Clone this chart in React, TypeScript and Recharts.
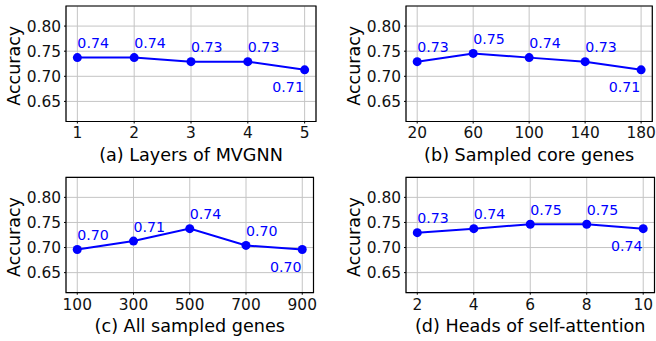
import React from 'react';
import { LineChart, Line, XAxis, YAxis, CartesianGrid, ReferenceArea, LabelList } from 'recharts';

const layersX = [1, 2, 3, 4, 5];
const layersAcc = [0.7372, 0.7372, 0.7292, 0.7292, 0.7129];
const coreX = [20, 60, 100, 140, 180];
const coreAcc = [0.7292, 0.7456, 0.7372, 0.7292, 0.7129];
const allX = [100, 300, 500, 700, 900];
const allAcc = [0.6961, 0.7129, 0.7377, 0.7042, 0.6961];
const headsX = [2, 4, 6, 8, 10];
const headsAcc = [0.7296, 0.7377, 0.7464, 0.7464, 0.7377];
const yTicks = [0.65, 0.7, 0.75, 0.8];
const yDomain = [0.61, 0.84];
const titles = ['(a) Layers of MVGNN', '(b) Sampled core genes', '(c) All sampled genes', '(d) Heads of self-attention'];

const FONT = 'DejaVu Sans';
const BLUE = '#0000ff';

type PanelProps = {
  xs: number[];
  ys: number[];
  title: string;
  left: number;
  top: number;
  width: number;
  height: number;
  mTop: number;
  mRight: number;
  yAxisWidth: number;
  xAxisHeight: number;
};

function Panel(p: PanelProps) {
  const data = p.xs.map((x, i) => ({ x, y: p.ys[i] }));
  const minX = p.xs[0];
  const maxX = p.xs[p.xs.length - 1];
  const pad = (maxX - minX) * 0.05;
  const xDomain = [minX - pad, maxX + pad];
  const n = data.length;

  const renderPointLabel = (props: any) => {
    const { x, y, index, value } = props;
    const last = index === n - 1;
    return (
      <text
        x={last ? x - 0.7 : x}
        y={last ? y + 22.4 : y - 9.5}
        textAnchor={last ? 'end' : 'start'}
        fill={BLUE}
        fontSize={14.2}
        fontFamily={FONT}
      >
        {Number(value).toFixed(2)}
      </text>
    );
  };

  const renderXLabel = (props: any) => {
    const vb = props.viewBox;
    return (
      <text x={vb.x + vb.width / 2} y={vb.y + 39} textAnchor="middle" fill="#000" fontSize={17.6} fontFamily={FONT}>
        {p.title}
      </text>
    );
  };

  const renderYLabel = (props: any) => {
    const vb = props.viewBox;
    const bx = vb.x + vb.width - 45.9;
    const cy = vb.y + vb.height / 2 + 2;
    return (
      <text x={bx} y={cy} transform={`rotate(-90 ${bx} ${cy})`} textAnchor="middle" fill="#000" fontSize={17.5} fontFamily={FONT}>
        Accuracy
      </text>
    );
  };

  return (
    <div style={{ position: 'absolute', left: p.left, top: p.top }}>
      <LineChart
        width={p.width}
        height={p.height}
        data={data}
        margin={{ top: p.mTop, right: p.mRight, left: 0, bottom: 0 }}
      >
        <CartesianGrid stroke="#c4c4c4" strokeWidth={1} />
        <XAxis
          dataKey="x"
          type="number"
          domain={xDomain}
          ticks={p.xs}
          allowDataOverflow
          height={p.xAxisHeight}
          axisLine={false}
          tickLine={{ stroke: '#000', strokeWidth: 1 }}
          tickSize={2}
          tickMargin={4}
          tick={{ fill: '#111', fontSize: 15.4, fontFamily: FONT }}
          interval={0}
          label={{ content: renderXLabel }}
        />
        <YAxis
          type="number"
          domain={yDomain}
          ticks={yTicks}
          allowDataOverflow
          width={p.yAxisWidth}
          axisLine={false}
          tickLine={{ stroke: '#000', strokeWidth: 1 }}
          tickSize={2}
          tickMargin={3}
          tick={{ fill: '#111', fontSize: 15.4, fontFamily: FONT }}
          tickFormatter={(v: number) => v.toFixed(2)}
          interval={0}
          label={{ content: renderYLabel }}
        />
        <ReferenceArea
          x1={xDomain[0]}
          x2={xDomain[1]}
          y1={yDomain[0]}
          y2={yDomain[1]}
          fill="none"
          stroke="#000"
          strokeWidth={1.2}
          ifOverflow="visible"
        />
        <Line
          dataKey="y"
          stroke={BLUE}
          strokeWidth={2}
          dot={{ r: 4.5, fill: BLUE, stroke: BLUE, strokeWidth: 0 }}
          activeDot={false}
          isAnimationActive={false}
        >
          <LabelList dataKey="y" content={renderPointLabel} />
        </Line>
      </LineChart>
    </div>
  );
}

export default function App() {
  return (
    <div style={{ position: 'absolute', left: 0, top: 0, width: 656, height: 341, background: '#fff', overflow: 'hidden' }}>
      <Panel xs={layersX} ys={layersAcc} title={titles[0]} left={0} top={0} width={330} height={170}
        mTop={6} mRight={14} yAxisWidth={66} xAxisHeight={48.5} />
      <Panel xs={coreX} ys={coreAcc} title={titles[1]} left={330} top={0} width={326} height={170}
        mTop={6} mRight={3.7} yAxisWidth={76} xAxisHeight={48.5} />
      <Panel xs={allX} ys={allAcc} title={titles[2]} left={0} top={171} width={330} height={170}
        mTop={6.3} mRight={16.5} yAxisWidth={66} xAxisHeight={48.3} />
      <Panel xs={headsX} ys={headsAcc} title={titles[3]} left={330} top={171} width={326} height={170}
        mTop={6.3} mRight={1.5} yAxisWidth={76} xAxisHeight={48.3} />
    </div>
  );
}
